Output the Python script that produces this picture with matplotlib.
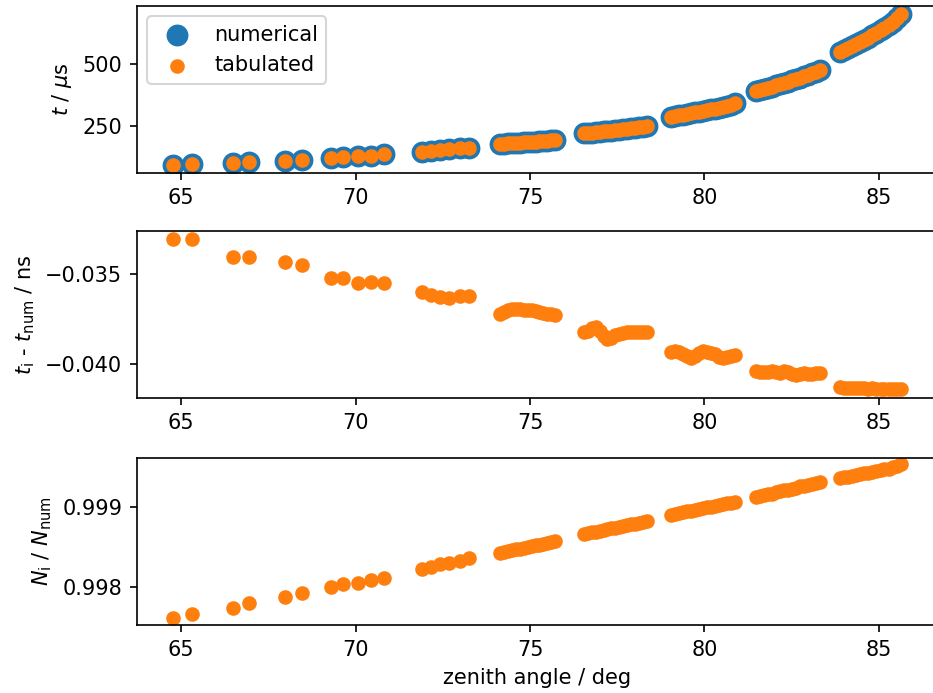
import matplotlib
matplotlib.use("Agg")
import matplotlib.pyplot as plt

# zenith angles (deg) of the sampled showers, grouped as they appear on the chart
zenith = [
    64.77, 65.32,
    66.47, 66.93,
    67.98, 68.46,
    69.28, 69.64, 70.06, 70.43, 70.81,
    71.89, 72.16, 72.42, 72.68, 73.00, 73.25,
    74.15, 74.26, 74.37, 74.49, 74.60, 74.71, 74.82, 74.93, 75.05, 75.16, 75.27, 75.38, 75.49, 75.61, 75.72,
    76.55, 76.66, 76.77, 76.89, 77.00, 77.11, 77.22, 77.33, 77.45, 77.56, 77.67, 77.78, 77.89, 78.01, 78.12, 78.23, 78.34,
    79.05, 79.16, 79.28, 79.39, 79.51, 79.62, 79.73, 79.85, 79.96, 80.07, 80.19, 80.30, 80.42, 80.53, 80.64, 80.76, 80.87,
    81.49, 81.60, 81.72, 81.83, 81.95, 82.06, 82.17, 82.29, 82.40, 82.52, 82.63, 82.74, 82.86, 82.97, 83.09, 83.20, 83.31,
    83.88, 83.99, 84.11, 84.23, 84.35, 84.46, 84.58, 84.70, 84.81, 84.93, 85.05, 85.16, 85.28, 85.40, 85.51, 85.63,
]

# time in microseconds (numerical and tabulated agree to the ns level)
t_num = [
    96, 100,
    104, 106,
    110, 116,
    123, 128, 130, 132, 137,
    148, 151, 154, 157, 161, 164,
    179, 180, 181, 182, 183, 184, 185, 186, 187, 188, 189, 190, 192, 193, 195,
    222, 223.5, 225, 226.5, 228, 229.5, 231, 233, 235, 236.5, 238, 240, 242, 244, 246, 248.5, 251,
    289, 291.5, 294, 297, 300, 303, 306, 309, 312, 315, 318, 321, 325, 329, 333, 338, 343,
    394, 398, 402, 406, 410.5, 415, 420, 425, 430, 435, 440.5, 446, 452, 458, 464, 470.5, 477,
    548, 556, 564, 572, 580, 589, 598, 607, 617, 627, 637, 648, 659, 671, 686, 703,
]

# t_i - t_num in ns
dt = [
    -0.03304, -0.03304,
    -0.03406, -0.03406,
    -0.03430, -0.03448,
    -0.03522, -0.03522, -0.03550, -0.03541, -0.03550,
    -0.03597, -0.03615, -0.03624, -0.03633, -0.03621, -0.03621,
    -0.03721, -0.03710, -0.03700, -0.03695, -0.03693, -0.03695, -0.03697, -0.03698, -0.03700, -0.03703,
    -0.03708, -0.03713, -0.03718, -0.03722, -0.03724,
    -0.03822, -0.03815, -0.03800, -0.03795, -0.03815, -0.03845, -0.03862, -0.03855, -0.03840, -0.03830,
    -0.03825, -0.03822, -0.03820, -0.03820, -0.03819, -0.03818, -0.03820,
    -0.03930, -0.03928, -0.03932, -0.03940, -0.03955, -0.03965, -0.03955, -0.03935, -0.03928, -0.03930,
    -0.03938, -0.03945, -0.03958, -0.03965, -0.03962, -0.03955, -0.03948,
    -0.04035, -0.04040, -0.04043, -0.04040, -0.04038, -0.04042, -0.04048, -0.04035, -0.04040, -0.04055,
    -0.04058, -0.04052, -0.04050, -0.04055, -0.04052, -0.04050, -0.04048,
    -0.04125, -0.04130, -0.04132, -0.04130, -0.04132, -0.04134, -0.04133, -0.04135, -0.04134, -0.04135,
    -0.04136, -0.04135, -0.04136, -0.04137, -0.04136, -0.04138,
]

# N_i / N_num
n_ratio = [
    0.997623, 0.997677,
    0.997752, 0.997814,
    0.997883, 0.997926,
    0.998000, 0.998037, 0.998053, 0.998090, 0.998111,
    0.998223, 0.998252, 0.998285, 0.998305, 0.998326, 0.998360,
    0.99843, 0.99844, 0.99845, 0.99846, 0.99847, 0.99848, 0.99849, 0.99850, 0.99851, 0.99852,
    0.99853, 0.99854, 0.99855, 0.99856, 0.99857,
    0.99866, 0.99867, 0.99868, 0.99869, 0.99870, 0.99871, 0.99872, 0.99873, 0.99874, 0.99875,
    0.99876, 0.99877, 0.99878, 0.99879, 0.99880, 0.99881, 0.99882,
    0.99890, 0.99891, 0.99892, 0.99893, 0.99894, 0.99895, 0.99896, 0.99897, 0.99898, 0.99899,
    0.99900, 0.99901, 0.99902, 0.99903, 0.99904, 0.99905, 0.99906,
    0.99912, 0.99913, 0.99914, 0.99915, 0.99916, 0.99918, 0.99919, 0.99920, 0.99921, 0.99922,
    0.99923, 0.99925, 0.99926, 0.99927, 0.99928, 0.99929, 0.99930,
    0.99935, 0.99936, 0.99937, 0.99938, 0.99939, 0.99940, 0.99941, 0.99942, 0.99943, 0.99944,
    0.99945, 0.99946, 0.99947, 0.99949, 0.99950, 0.99952,
]

t_tab = [t + d * 1e-3 for t, d in zip(t_num, dt)]

fig = plt.figure(figsize=(933 / 150, 693 / 150), dpi=150)

W, H = 933, 693
def px_axes(left, top, right, bottom):
    return fig.add_axes([left / W, 1 - bottom / H, (right - left) / W, (bottom - top) / H])

ax1 = px_axes(137, 6, 937, 173)
ax2 = px_axes(137, 231, 937, 398)
ax3 = px_axes(137, 458, 937, 625)

# top: absolute times
ax1.scatter(zenith, t_num, s=90, color="C0", label="numerical")
ax1.scatter(zenith, t_tab, color="C1", label="tabulated")
ax1.set_ylabel(r"$t$ / $\mu$s")
ax1.set_ylim(62, 735)
ax1.set_yticks([250, 500])
ax1.legend(loc="upper left")

# middle: time difference
ax2.scatter(zenith, dt, color="C1")
ax2.set_ylabel(r"$t_\mathrm{i}$ - $t_\mathrm{num}$ / ns")
ax2.set_ylim(-0.04187, -0.0326)
ax2.set_yticks([-0.040, -0.035])

# bottom: ratio of N
ax3.scatter(zenith, n_ratio, color="C1")
ax3.set_ylabel(r"$N_\mathrm{i}$ / $N_\mathrm{num}$")
ax3.set_ylim(0.997536, 0.999600)
ax3.set_yticks([0.998, 0.999])
ax3.set_xlabel("zenith angle / deg")

for ax in (ax1, ax2, ax3):
    ax.set_xlim(63.73, 86.67)
    ax.set_xticks([65, 70, 75, 80, 85])

fig.savefig("out.png", dpi=150)
